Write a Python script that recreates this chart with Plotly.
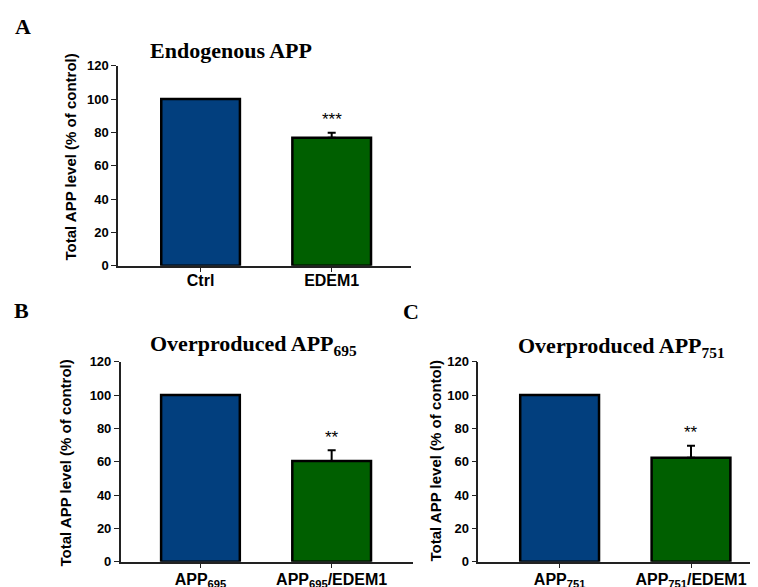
import math
import plotly.graph_objects as go

# ---- data ----
cats_a = ["Ctrl", "EDEM1"]
vals_a = [100.0, 76.8]
err_a = [math.nan, 3.0]
sig_a = ["", "***"]

cats_b = ["APP<sub>695</sub>", "APP<sub>695</sub>/EDEM1"]
vals_b = [100.0, 60.4]
err_b = [math.nan, 6.4]
sig_b = ["", "**"]

cats_c = ["APP<sub>751</sub>", "APP<sub>751</sub>/EDEM1"]
vals_c = [100.0, 62.4]
err_c = [math.nan, 7.2]
sig_c = ["", "**"]

titles = ["Endogenous APP", "Overproduced APP<sub>695</sub>", "Overproduced APP<sub>751</sub>"]
ytitles = ["Total APP level (% of control)", "Total APP level (% of control)",
           "Total APP level (% of contol)"]
panel_letters = ["A", "B", "C"]
yticks = [0, 20, 40, 60, 80, 100, 120]

# page has an 8px body margin -> figure is 8px smaller and offset
OFF = 8
W, H = 758 - OFF, 587 - OFF
colors = ["#023f7e", "#005f00"]

def px_x(p):
    return (p - OFF) / W

def px_y(p):
    return 1 - (p - OFF) / H

panels = [
    dict(cats=cats_a, vals=vals_a, err=err_a, sig=sig_a, xd=(118, 411), yd=(265.7, 65.7),
         xr=(-0.63, 1.605), lso=-6, yt=(70, 157.5)),
    dict(cats=cats_b, vals=vals_b, err=err_b, sig=sig_b, xd=(120.7, 413), yd=(561.7, 361.7),
         xr=(-0.608, 1.62), lso=-3, yt=(65, 463.5)),
    dict(cats=cats_c, vals=vals_c, err=err_c, sig=sig_c, xd=(478.3, 758), yd=(561.7, 361.7),
         xr=(-0.619, 1.51), lso=-3, yt=(435, 461.5)),
]

fig = go.Figure()
layout = dict(
    width=W, height=H, margin=dict(l=0, r=0, t=0, b=0, autoexpand=False),
    paper_bgcolor="white", plot_bgcolor="white", showlegend=False,
)
annotations = []
axis_font = dict(family="Liberation Sans, Arial", size=13, color="black", weight="bold")
serif = dict(family="Liberation Serif, Times New Roman", size=22, color="black", weight="bold")

for i, p in enumerate(panels):
    n = "" if i == 0 else str(i + 1)
    xs = [0, 1]
    fig.add_trace(go.Bar(
        x=xs, y=p["vals"], width=0.6,
        marker=dict(color=colors, line=dict(color="black", width=2.5)),
        error_y=dict(type="data", symmetric=False, array=p["err"], arrayminus=[0, 0],
                     color="black", thickness=2, width=4),
        xaxis="x" + n, yaxis="y" + n,
    ))
    layout["xaxis" + n] = dict(
        domain=[px_x(p["xd"][0]), px_x(p["xd"][1])], anchor="y" + n, automargin=False,
        range=list(p["xr"]), tickmode="array", tickvals=xs, ticktext=p["cats"],
        showline=True, linecolor="#222", linewidth=1.5, ticks="outside", ticklen=5,
        tickcolor="#222", tickwidth=1.2, showgrid=False, zeroline=False,
        ticklabelstandoff=p["lso"],
        tickfont=dict(family="Liberation Sans, Arial", size=16, color="black", weight="bold"),
    )
    layout["yaxis" + n] = dict(
        domain=[px_y(p["yd"][0]), px_y(p["yd"][1])], anchor="x" + n, automargin=False,
        range=[0, 120], tickmode="array", tickvals=yticks,
        showline=True, linecolor="#222", linewidth=1.5, ticks="outside", ticklen=5,
        tickcolor="#222", tickwidth=1.2, showgrid=False, zeroline=False,
        tickfont=axis_font,
    )
    annotations.append(dict(
        x=px_x(p["yt"][0]), y=px_y(p["yt"][1]), xref="paper", yref="paper",
        text=ytitles[i], textangle=-90, showarrow=False, xanchor="center", yanchor="middle",
        font=dict(family="Liberation Sans, Arial", size=15, color="black", weight="bold"),
    ))
    for j, s in enumerate(p["sig"]):
        if s:
            annotations.append(dict(
                x=xs[j], y=p["vals"][j] + p["err"][j] + 1, xref="x" + n, yref="y" + n,
                text=s, showarrow=False, yanchor="bottom",
                font=dict(family="Liberation Sans, Arial", size=17, color="black"),
            ))

# titles
title_pos = [(230.5, 50), (253.5, 345), (621, 347)]
for t, (tx, ty) in zip(titles, title_pos):
    annotations.append(dict(x=px_x(tx), y=px_y(ty), xref="paper", yref="paper", text=t,
                            showarrow=False, xanchor="center", yanchor="middle", font=serif))
letter_pos = [(23, 26), (21, 310), (411, 311)]
for t, (tx, ty) in zip(panel_letters, letter_pos):
    annotations.append(dict(x=px_x(tx), y=px_y(ty), xref="paper", yref="paper", text=t,
                            showarrow=False, xanchor="center", yanchor="middle", font=serif))

layout["annotations"] = annotations
fig.update_layout(**layout)
fig.write_html("out.html")
